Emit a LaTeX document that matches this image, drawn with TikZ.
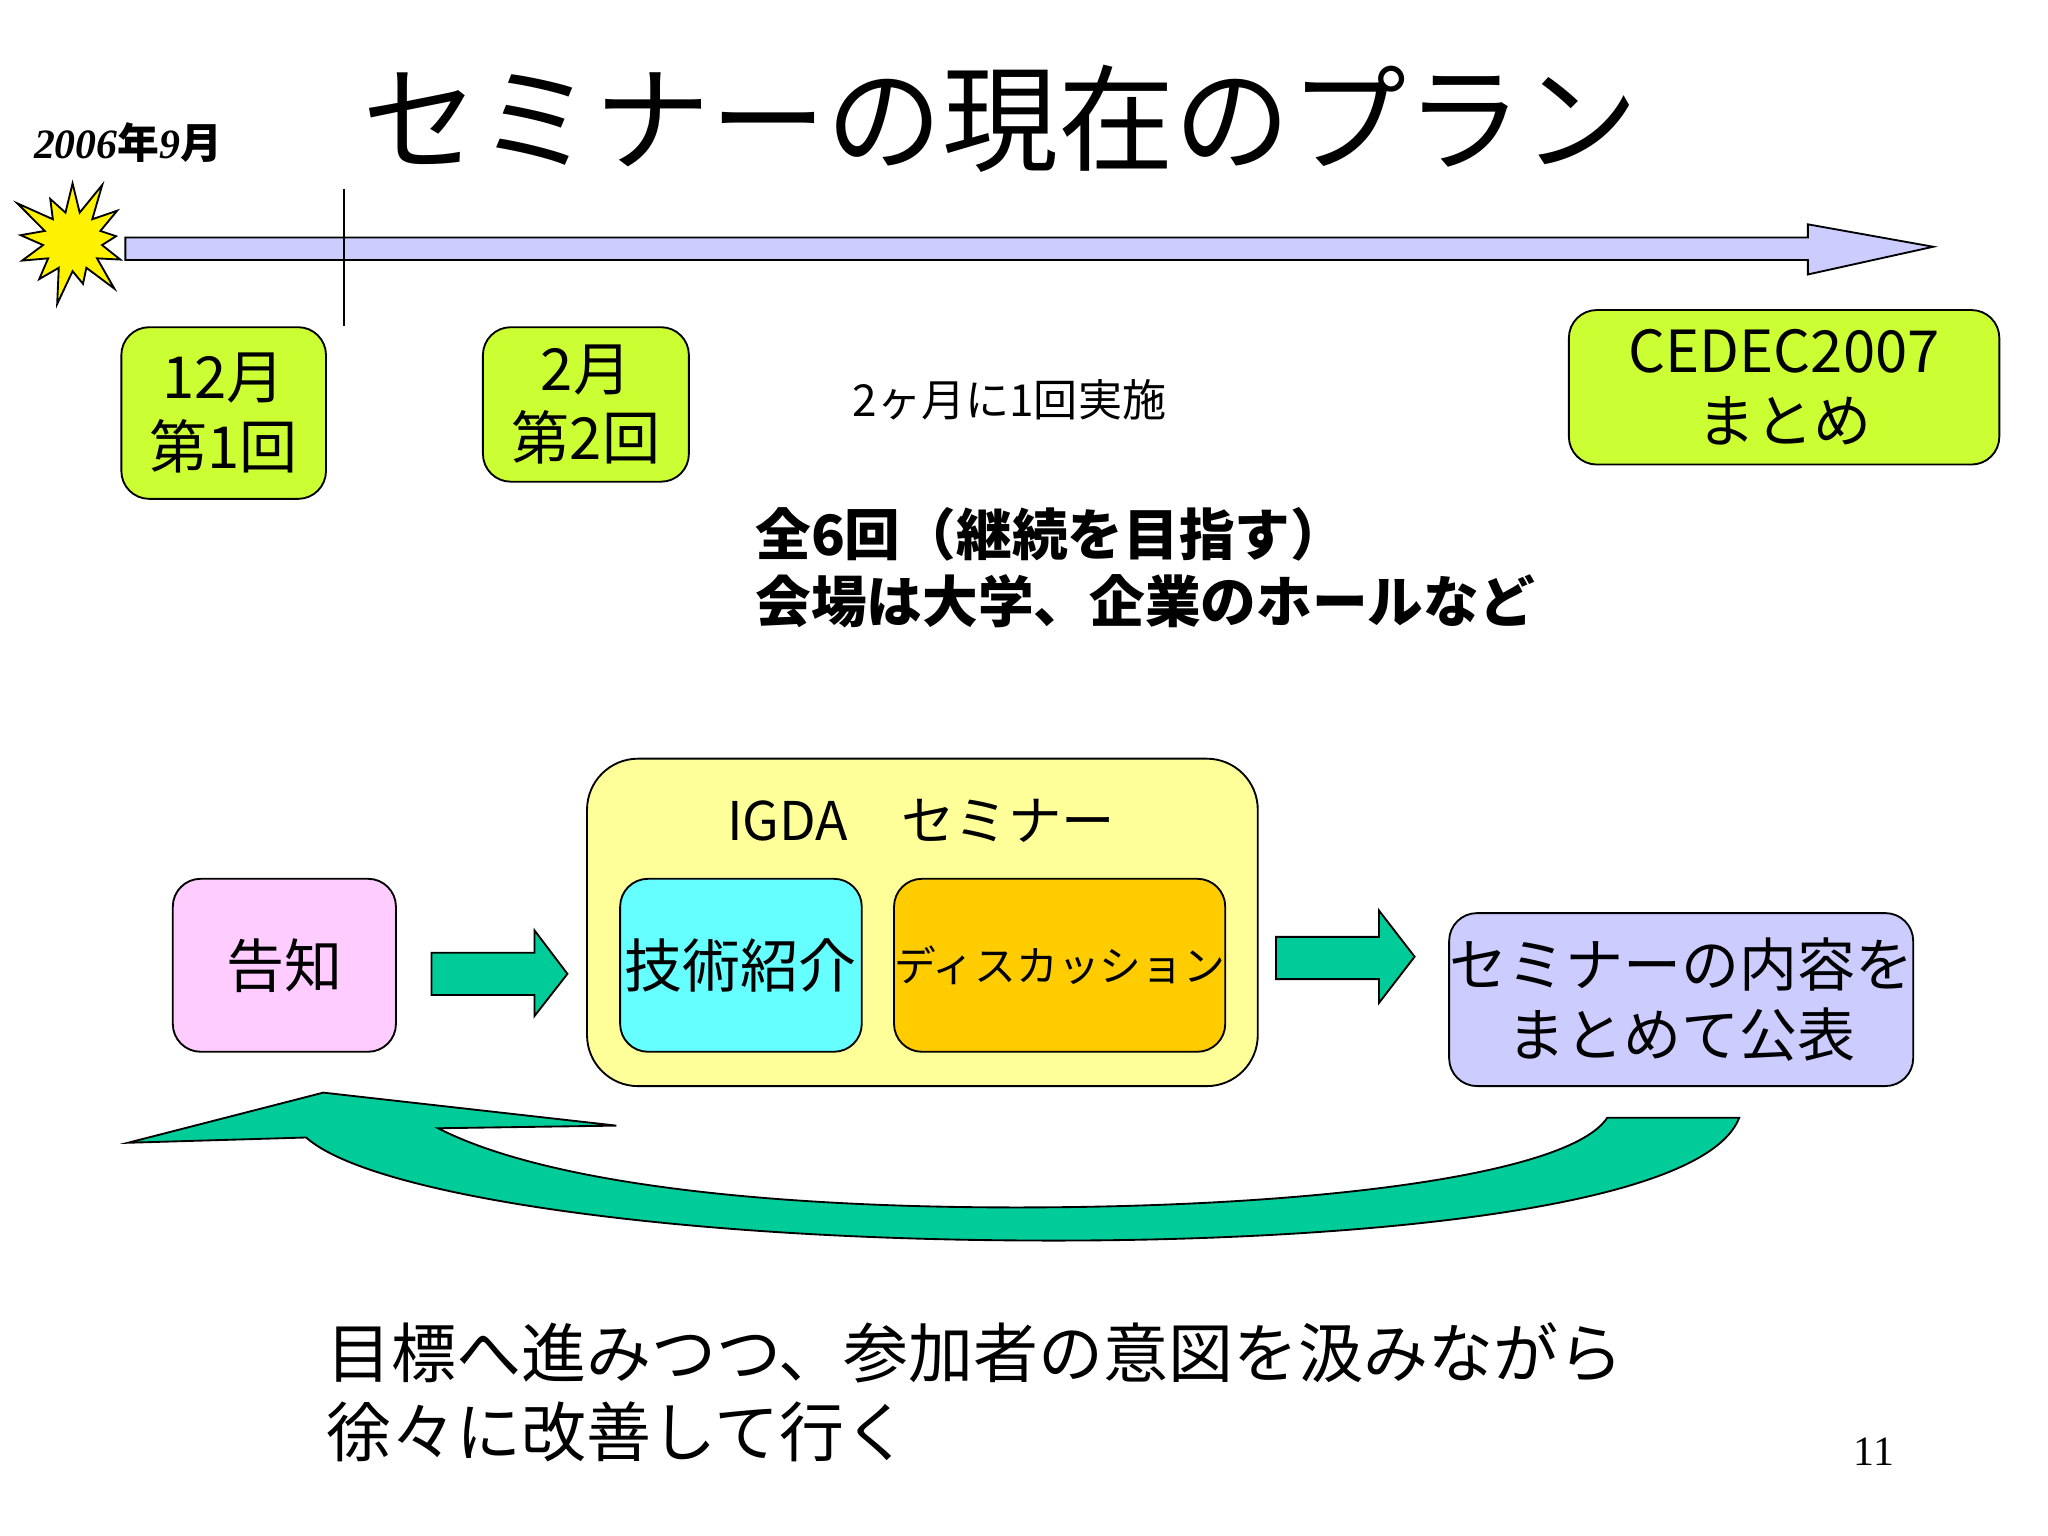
\documentclass[tikz,border=0pt]{standalone}
\usepackage{fontspec}
\setmainfont{Liberation Serif}
\newfontfamily\jp{Noto Sans CJK JP}
\usetikzlibrary{shapes.symbols}
\definecolor{boxgreen}{RGB}{204,255,51}
\definecolor{lav}{RGB}{204,204,255}
\definecolor{teal2}{RGB}{0,204,153}
\definecolor{paleyel}{RGB}{255,255,153}
\definecolor{cyan2}{RGB}{102,255,255}
\definecolor{orng}{RGB}{255,204,0}
\definecolor{pink2}{RGB}{255,204,255}
\tikzset{
  box/.style={draw,rounded corners=6pt,align=center,inner sep=0pt,font=\jp\fontsize{12.5}{15}\selectfont},
  blk/.style={draw,fill=teal2}
}
\begin{document}
\begin{tikzpicture}[x=0.01cm,y=-0.01cm]
\useasboundingbox (0,0) rectangle (1552,1164);

% title and time line
\node (title) at (758,90) {\jp\fontsize{25}{28}\selectfont セミナーの現在のプラン};
\node (start) at (97,108) {\bfseries\itshape\fontsize{9}{10}\selectfont 2006{\jp 年}9{\jp 月}};
\node (star) at (55,183) [starburst,starburst points=13,starburst point height=0.3cm,fill=yellow,draw,minimum width=1.05cm,minimum height=1.05cm] {};
\draw[fill=lav] (95,180) -- (1370,180) -- (1370,170) -- (1465,187) -- (1370,208) -- (1370,197) -- (95,197) -- cycle;
\draw (261,143) -- (261,247);

\node (s1) [box,fill=boxgreen,minimum width=1.55cm,minimum height=1.3cm] at (169.5,313) {12月\\第1回};
\node (s2) [box,fill=boxgreen,minimum width=1.56cm,minimum height=1.17cm] at (444,306.5) {2月\\第2回};
\node (ced) [box,fill=boxgreen,minimum width=3.26cm,minimum height=1.17cm] at (1352,293.5) {CEDEC2007\\まとめ};
\node (freq) at (765,303) {\jp\fontsize{9.5}{11}\selectfont 2ヶ月に1回実施};
\node (plan) [anchor=north west,align=left,font=\jp\bfseries\fontsize{12}{14.5}\selectfont] at (560,372) {全6回（継続を目指す）\\会場は大学、企業のホールなど};

% cycle
\node (igda) [box,fill=paleyel,rounded corners=11pt,minimum width=5.08cm,minimum height=2.48cm] at (699,699) {};
\node (igdat) at (698,622) {\jp\fontsize{11.5}{13}\selectfont IGDA　セミナー};
\node (tech) [box,fill=cyan2,minimum width=1.83cm,minimum height=1.31cm] at (561.5,731.5) {技術紹介};
\node (disc) [box,fill=orng,minimum width=2.48cm,minimum height=1.31cm,font=\jp\fontsize{9}{11}\selectfont] at (803,731.5) {ディスカッション};
\node (notice) [box,fill=pink2,minimum width=1.69cm,minimum height=1.31cm] at (215.5,731.5) {告知};
\node (pub) [box,fill=lav,minimum width=3.26cm,minimum height=1.31cm] at (1274,757.5) {セミナーの内容を\\まとめて公表};

\draw[blk] (327,722) -- (405,722) -- (405,705) -- (430,738) -- (405,770) -- (405,754) -- (327,754) -- cycle;
\draw[blk] (967,710) -- (1045,710) -- (1045,690) -- (1072,725) -- (1045,760) -- (1045,742) -- (967,742) -- cycle;
\draw[blk] (1318,847) .. controls (1290,920) and (1000,942) .. (770,940)
  .. controls (500,938) and (280,905) .. (232,862) -- (97,866) -- (245,828) -- (467,853) -- (332,855)
  .. controls (420,900) and (600,915) .. (770,915)
  .. controls (1000,915) and (1190,890) .. (1218,847) -- cycle;

\node (goal) [anchor=north west,align=left,font=\jp\fontsize{14}{17}\selectfont] at (235,990) {目標へ進みつつ、参加者の意図を汲みながら\\徐々に改善して行く};
\node (page) at (1420,1100) {\fontsize{9}{10}\selectfont 11};
\end{tikzpicture}
\end{document}
